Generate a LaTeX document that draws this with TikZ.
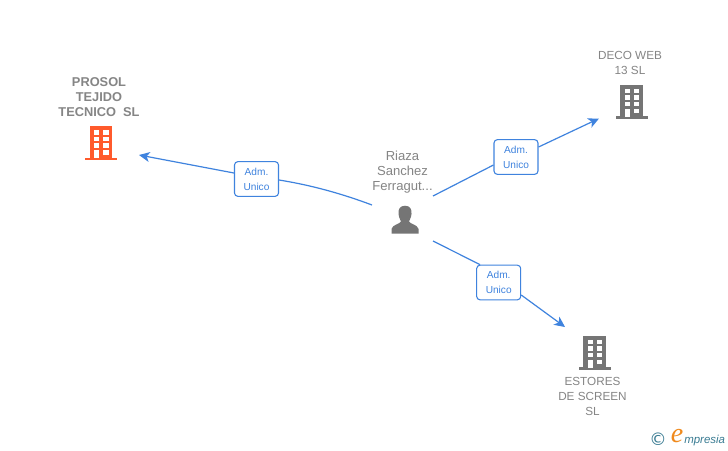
\documentclass[tikz,border=0pt]{standalone}
\usepackage{fontspec}
\setmainfont{Liberation Sans}
\newfontfamily\serifit{Liberation Serif}
\newfontfamily\dejavu{DejaVu Sans}
\usetikzlibrary{arrows.meta}
\definecolor{linkblue}{HTML}{3F83DE}
\definecolor{graytxt}{HTML}{858585}
\definecolor{grayicon}{HTML}{757575}
\definecolor{orangeicon}{HTML}{FF5A2C}
\definecolor{logoblue}{HTML}{3A7C93}
\definecolor{logoorange}{HTML}{F08A1D}
\tikzset{
  x=0.75pt,y=-0.75pt,
  conn/.style={draw=linkblue,line width=0.9pt},
  arr/.style={conn,-{Stealth[length=8pt,width=7.5pt,inset=2.2pt]}},
  lbl/.style={draw=linkblue,line width=0.8pt,rounded corners=2.5pt,fill=white,minimum width=33pt,minimum height=26pt,inner sep=0pt,align=center,text=linkblue,font=\fontsize{7.6}{11.2}\selectfont},
  cname/.style={align=center,text=graytxt,inner sep=0pt,font=\fontsize{8.8}{11.25}\selectfont},
  wname/.style={cname,font=\fontsize{9.8}{11.25}\selectfont},
  bname/.style={cname,font=\fontsize{9.6}{11.25}\selectfont\bfseries},
  building/.pic={
    \fill[pic actions] (-11.3,0) rectangle (11.3,32);
    \fill[pic actions] (-16,31.5) rectangle (16,34);
    \fill[white] (-7,4) rectangle (-2,8.5);
    \fill[white] (2.3,4) rectangle (7.7,8.5);
    \fill[white] (-7,10.5) rectangle (-2,15);
    \fill[white] (2.3,10.5) rectangle (7.7,15);
    \fill[white] (-7,17) rectangle (-2,21.5);
    \fill[white] (2.3,17) rectangle (7.7,21.5);
    \fill[white] (-7,24) rectangle (-2,32);
    \fill[white] (2.3,24) rectangle (7.7,28.5);
  }
}
\begin{document}
\begin{tikzpicture}
\useasboundingbox (0,0) rectangle (728,450);
\fill[white] (0,0) rectangle (728,450);
% company names
\node[bname] (prosol) at (99,97.5) {PROSOL\\TEJIDO\\TECNICO\ \ SL};
\node[cname] (deco) at (630,63) {DECO WEB\\13 SL};
\node[cname] (estores) at (592.5,396) {ESTORES\\DE SCREEN\\SL};
\node[wname] (riaza) at (402.5,172.5) {Riaza\\Sanchez\\Ferragut...};
% icons
\pic[fill=orangeicon] at (101,126) {building};
\pic[fill=grayicon] at (631.5,84.5) {building};
\pic[fill=grayicon] at (594.5,335.5) {building};
% person
\fill[grayicon] (405,205.7) .. controls (399.5,205.7) and (398,210) .. (398.5,214)
  .. controls (399,218) and (400.5,220) .. (401,221.5)
  .. controls (400,224) and (392.5,224.5) .. (391.5,229)
  -- (391.5,233.5) -- (418.5,233.5) -- (418.5,229)
  .. controls (417.5,224.5) and (410,224) .. (409,221.5)
  .. controls (409.5,220) and (411,218) .. (411.5,214)
  .. controls (412,210) and (410.5,205.7) .. (405,205.7) -- cycle;
% connector ends
\coordinate (s1) at (372,205);
\coordinate (t1) at (139,155);
\coordinate (s2) at (433,196);
\coordinate (t2) at (599,118.5);
\coordinate (s3) at (433,241);
\coordinate (t3) at (565,327);
% labels
\node[lbl] (l1) at (256.5,179) {Adm.\\Unico};
\node[lbl] (l2) at (516,157) {Adm.\\Unico};
\node[lbl] (l3) at (498.7,282.5) {Adm.\\Unico};
% connectors
\draw[conn] (s1) .. controls (340,193) and (310,185) .. (l1.east |- 0,180);
\draw[arr] (l1.west |- 0,173) -- (t1);
\draw[conn] (s2) -- (l2.west |- 0,165);
\draw[arr] (l2.east |- 0,147) -- (t2);
\draw[conn] (s3) -- (l3.north -| 480,0);
\draw[arr] (l3.east |- 0,295) -- (t3);
% logo
\node[text=logoblue,inner sep=0pt,font=\dejavu\fontsize{13}{13}\selectfont] (copy) at (658,439) {©};
\node[text=logoorange,inner sep=0pt,font=\serifit\itshape\fontsize{21}{21}\selectfont] (loge) at (677,436) {e};
\node[text=logoblue,inner sep=0pt,anchor=base west,font=\itshape\fontsize{8.6}{10}\selectfont] (logt) at (684,443) {mpresia};
\end{tikzpicture}
\end{document}
